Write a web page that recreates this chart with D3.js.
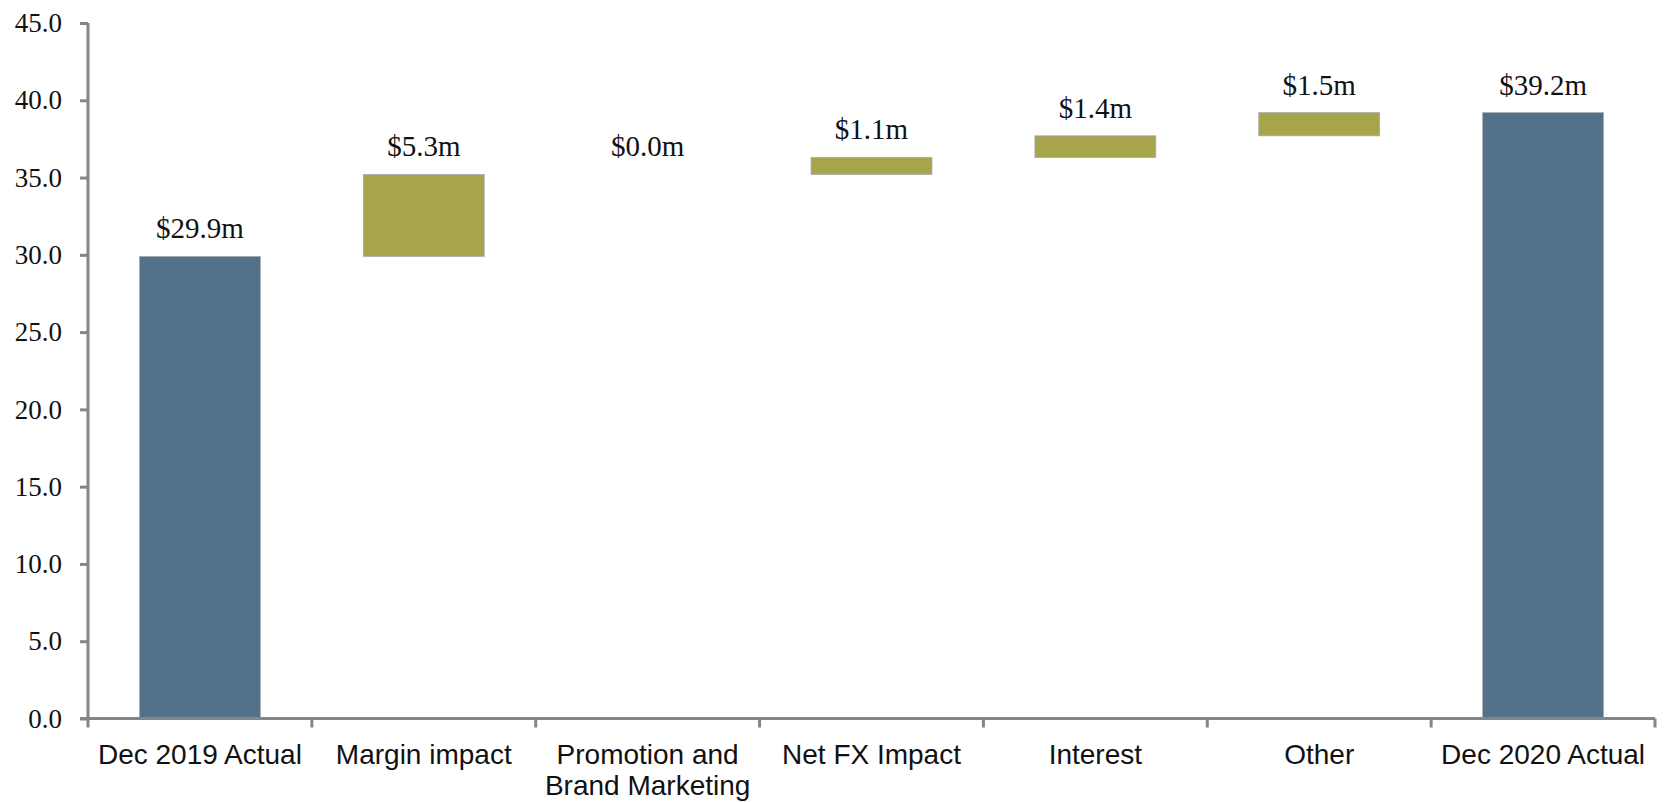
<!DOCTYPE html>
<html>
<head>
<meta charset="utf-8">
<script src="https://cdn.jsdelivr.net/npm/d3@7"></script>
<style>
  html, body { margin: 0; padding: 0; background: #ffffff; }
  svg { display: block; }
</style>
</head>
<body>
<svg id="chart" width="1668" height="803"></svg>
<script>
// ---- data ----
const categories = ["Dec 2019 Actual", "Margin impact", "Promotion and\nBrand Marketing", "Net FX Impact", "Interest", "Other", "Dec 2020 Actual"];
const values = [29.9, 5.3, 0.0, 1.1, 1.4, 1.5, 39.2];
const kinds = ["total", "delta", "delta", "delta", "delta", "delta", "total"];
const yTicks = [0, 5, 10, 15, 20, 25, 30, 35, 40, 45];

// ---- layout ----
const W = 1668, H = 803;
const margin = { left: 88, right: 13, top: 23, bottom: 84.5 };
const svg = d3.select("#chart");

const x = d3.scaleBand()
  .domain(categories)
  .range([margin.left, W - margin.right])
  .paddingInner(0.46)
  .paddingOuter(0.23);

const y = d3.scaleLinear()
  .domain([0, 45])
  .range([H - margin.bottom, margin.top]);

// waterfall rows
let running = 0;
const rows = categories.map((c, i) => {
  let lo, hi;
  if (kinds[i] === "total") { lo = 0; hi = values[i]; running = values[i]; }
  else { lo = running; hi = running + values[i]; running = hi; }
  return { cat: c, value: values[i], kind: kinds[i], lo, hi };
});

const colors = { total: "#52728b", delta: "#a7a54b" };
const axisColor = "#858585";

// bars
svg.append("g").selectAll("rect")
  .data(rows.filter(d => d.hi - d.lo > 0))
  .join("rect")
  .attr("x", d => x(d.cat))
  .attr("width", x.bandwidth())
  .attr("y", d => y(d.hi))
  .attr("height", d => y(d.lo) - y(d.hi))
  .attr("fill", d => colors[d.kind])
  .attr("stroke", "#a9a9a9")
  .attr("stroke-width", 0.8);

// value labels
svg.append("g").selectAll("text")
  .data(rows)
  .join("text")
  .attr("x", d => x(d.cat) + x.bandwidth() / 2)
  .attr("y", d => y(d.hi) - 18)
  .attr("text-anchor", "middle")
  .attr("font-family", "'Liberation Serif', 'Times New Roman', serif")
  .attr("font-size", 29)
  .attr("fill", "#111")
  .text(d => "$" + d.value.toFixed(1) + "m");

// y axis
const yAxis = d3.axisLeft(y)
  .tickValues(yTicks)
  .tickFormat(d3.format(".1f"))
  .tickSize(8)
  .tickPadding(18);
const gy = svg.append("g")
  .attr("transform", `translate(${margin.left},0)`)
  .call(yAxis);
gy.select(".domain").attr("stroke", axisColor).attr("stroke-width", 3)
  .attr("d", `M0,${y(45)}V${y(0)}`);
gy.selectAll(".tick line").attr("stroke", axisColor).attr("stroke-width", 3);
gy.selectAll(".tick text")
  .attr("font-family", "'Liberation Serif', 'Times New Roman', serif")
  .attr("font-size", 27)
  .attr("fill", "#111");

// x axis
const gx = svg.append("g")
  .attr("transform", `translate(0,${y(0)})`);
gx.append("line")
  .attr("x1", margin.left - 8).attr("x2", W - margin.right)
  .attr("y1", 0).attr("y2", 0)
  .attr("stroke", axisColor).attr("stroke-width", 3);
const boundaries = categories.map(c => x(c) - x.step() * x.paddingInner() / 2)
  .concat([W - margin.right]);
boundaries[0] = margin.left;
gx.selectAll("line.tk")
  .data(boundaries)
  .join("line")
  .attr("class", "tk")
  .attr("x1", d => d).attr("x2", d => d)
  .attr("y1", 0).attr("y2", 9)
  .attr("stroke", axisColor).attr("stroke-width", 3);

const xl = gx.selectAll("text.cat")
  .data(categories)
  .join("text")
  .attr("class", "cat")
  .attr("x", d => x(d) + x.bandwidth() / 2)
  .attr("y", 45)
  .attr("text-anchor", "middle")
  .attr("font-family", "'Liberation Sans', Arial, sans-serif")
  .attr("font-size", 28)
  .attr("fill", "#111");
xl.each(function(d) {
  const lines = d.split("\n");
  const t = d3.select(this);
  lines.forEach((ln, i) => {
    t.append("tspan")
      .attr("x", x(d) + x.bandwidth() / 2)
      .attr("dy", i === 0 ? 0 : 31)
      .text(ln);
  });
});
</script>
</body>
</html>
